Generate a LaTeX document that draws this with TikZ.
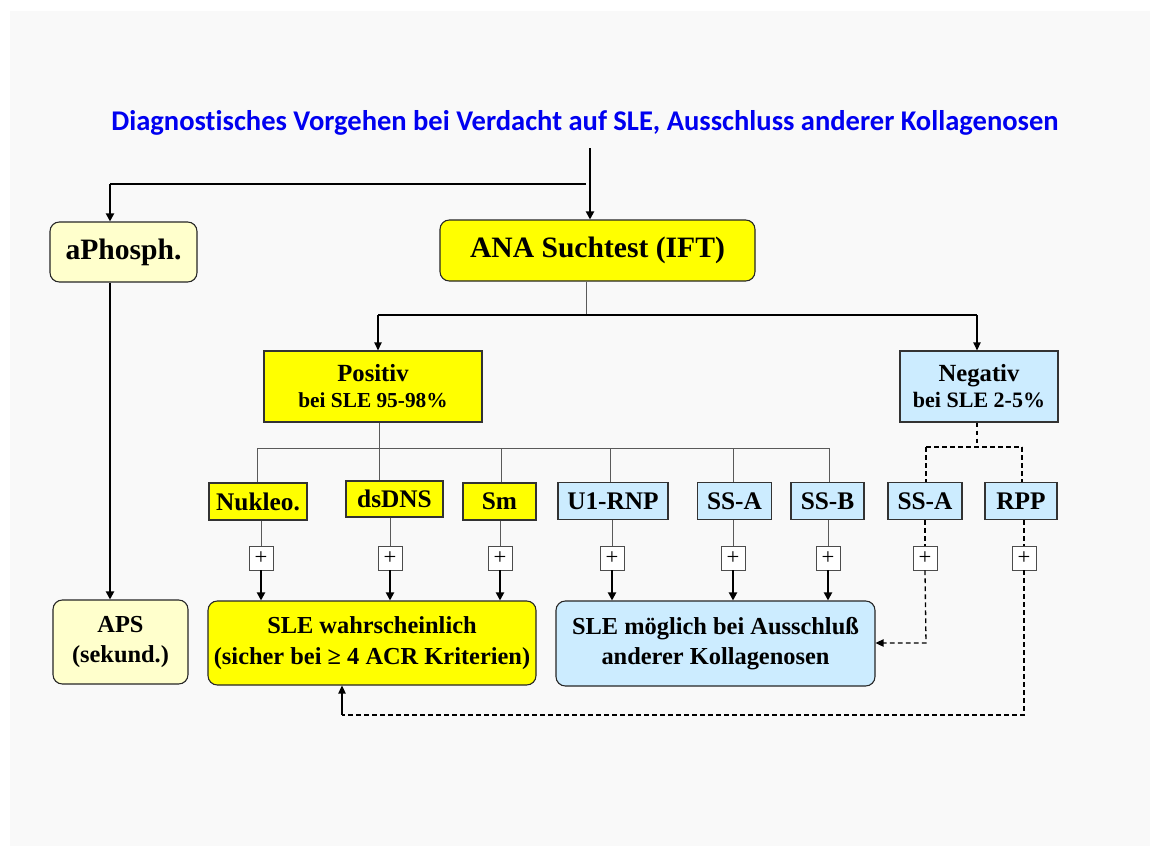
\documentclass[tikz,border=0pt]{standalone}
\usepackage{fontspec}
\setmainfont{Liberation Serif}
\newfontfamily\titlefont[Ligatures=NoCommon]{Carlito}
\usetikzlibrary{arrows.meta,calc}
\definecolor{bg}{HTML}{F9F9F9}
\definecolor{ylw}{HTML}{FFFF00}
\definecolor{lylw}{HTML}{FFFFCC}
\definecolor{lblue}{HTML}{CCECFF}
\definecolor{ttl}{HTML}{0000F0}
\definecolor{lgray}{HTML}{5A5A5A}
\tikzset{
  dims/.style 2 args={minimum width=#1*0.75pt, minimum height=#2*0.75pt, inner sep=0pt},
  boxbase/.style={draw=black!85, line width=0.8pt, font=\bfseries, align=center},
  rbox/.style={boxbase, rounded corners=7pt},
  sbox/.style={boxbase, draw=black!80, line width=0.9pt},
  plusbox/.style={draw=black!70, fill=white, line width=0.7pt, minimum width=18pt, minimum height=18pt, inner sep=0pt, font=\fontsize{17}{17}\selectfont},
  tree/.style={draw=lgray, line width=0.75pt},
  arr/.style={draw=black, line width=1.4pt, -{Triangle[length=6pt,width=6pt]}},
  arrthin/.style={draw=black, line width=1pt, -{Triangle[length=6pt,width=5.5pt]}},
  dsh/.style={draw=black, line width=1pt, dash pattern=on 3.5pt off 2.5pt},
  dsharr/.style={dsh, -{Triangle[length=6pt,width=5.5pt]}},
}
\begin{document}
\begin{tikzpicture}[x=0.75pt,y=-0.75pt]
\useasboundingbox (0,0) rectangle (1150,846);
\fill[white] (0,0) rectangle (1150,846);
\fill[bg] (10,11) rectangle (1150,846);

\node[anchor=base, text=ttl, font=\titlefont\bfseries\fontsize{21.4}{24}\selectfont] (title) at (585,130)
  {Diagnostisches Vorgehen bei Verdacht auf SLE, Ausschluss anderer Kollagenosen};

% main boxes
\node[rbox, dims={147}{60}, fill=lylw, font=\bfseries\fontsize{22.2}{24}\selectfont] (aP) at (123.5,252) {aPhosph.};
\node[rbox, dims={315}{61}, fill=ylw, font=\bfseries\fontsize{22.2}{24}\selectfont] (ana) at (597.5,250.5) {ANA Suchtest (IFT)};

\node[sbox, dims={218}{71}, fill=ylw, font=\bfseries\fontsize{16}{19.5}\selectfont] (pos) at (373,386.5)
  {{\fontsize{18.5}{19.5}\selectfont Positiv}\\bei SLE 95-98\%};
\node[sbox, dims={158}{71}, fill=lblue, font=\bfseries\fontsize{16.5}{19.5}\selectfont] (neg) at (979,386.5)
  {{\fontsize{18.5}{19.5}\selectfont Negativ}\\bei SLE 2-5\%};

% antibody boxes
\tikzset{ab/.style={sbox, font=\bfseries\fontsize{19}{20}\selectfont}}
\node[ab, dims={98}{37}, fill=ylw] (nuk) at (258,501.5) {Nukleo.};
\node[ab, dims={97}{36}, fill=ylw] (ds) at (394.5,499) {dsDNS};
\node[ab, dims={73}{37}, fill=ylw] (sm) at (499.5,501.5) {Sm};
\node[ab, dims={110}{37}, fill=lblue] (u1) at (613,501) {U1-RNP};
\node[ab, dims={74}{37}, fill=lblue] (ssa) at (734.5,501) {SS-A};
\node[ab, dims={73}{37}, fill=lblue] (ssb) at (827.5,501) {SS-B};
\node[ab, dims={74}{37}, fill=lblue] (ssa2) at (925,501) {SS-A};
\node[ab, dims={72}{37}, fill=lblue] (rpp) at (1021,501) {RPP};

% plus boxes
\node[plusbox] (p1) at (261,558) {+};
\node[plusbox] (p2) at (390,558) {+};
\node[plusbox] (p3) at (500,558) {+};
\node[plusbox] (p4) at (612,558) {+};
\node[plusbox] (p5) at (733,558) {+};
\node[plusbox] (p6) at (828,558) {+};
\node[plusbox] (p7) at (925,558) {+};
\node[plusbox] (p8) at (1024,558) {+};

% result boxes
\node[rbox, dims={328}{84}, fill=ylw, font=\bfseries\fontsize{18.3}{23}\selectfont] (sle) at (372,643)
  {SLE wahrscheinlich\\(sicher bei ≥ 4 ACR Kriterien)};
\node[rbox, dims={319}{85}, fill=lblue, font=\bfseries\fontsize{18.3}{23}\selectfont] (mog) at (715.5,643.5)
  {SLE möglich bei Ausschluß\\anderer Kollagenosen};
\node[rbox, dims={135}{84}, fill=lylw, font=\bfseries\fontsize{18.3}{23}\selectfont] (aps) at (120.5,642)
  {APS\\(sekund.)};

% top connectors
\coordinate (t0) at (590,148);
\draw[arr] (t0) -- (t0 |- ana.north);
\coordinate (b0) at (586,184);
\coordinate (b1) at (110,184);
\draw[draw=black, line width=0.8pt] (b0) -- (b1);
\draw[arr] (b1) -- (b1 |- aP.north);
\draw[arr] (b1 |- aP.south) -- (b1 |- aps.north);

% ANA to Positiv / Negativ
\coordinate (c0) at (586,315);
\coordinate (cL) at (378,315);
\coordinate (cR) at (977,315);
\draw[tree] (c0 |- ana.south) -- (c0);
\draw[draw=black, line width=0.8pt] (cL) -- (cR);
\draw[arrthin] (cL) -- (cL |- pos.north);
\draw[arrthin] (cR) -- (cR |- neg.north);

% Positiv bus
\coordinate (q0) at (379,448);
\coordinate (qL) at (257,448);
\coordinate (qR) at (829,448);
\draw[tree] (q0 |- pos.south) -- (q0);
\draw[tree] (qL) -- (qR);
\draw[tree] (qL) -- (qL |- nuk.north);
\draw[tree] (q0) -- (q0 |- ds.north);
\coordinate (q3) at (501,448);
\coordinate (q4) at (610,448);
\coordinate (q5) at (733,448);
\draw[tree] (q3) -- (q3 |- sm.north);
\draw[tree] (q4) -- (q4 |- u1.north);
\draw[tree] (q5) -- (q5 |- ssa.north);
\draw[tree] (qR) -- (qR |- ssb.north);

% boxes to plus
\draw[tree] (p1.north |- nuk.south) -- (p1.north);
\draw[tree] (p2.north |- ds.south) -- (p2.north);
\draw[tree] (p3.north |- sm.south) -- (p3.north);
\draw[tree] (p4.north |- u1.south) -- (p4.north);
\draw[tree] (p5.north |- ssa.south) -- (p5.north);
\draw[tree] (p6.north |- ssb.south) -- (p6.north);

% plus to results
\draw[arr] (p1.south) -- (p1.south |- sle.north);
\draw[arr] (p2.south) -- (p2.south |- sle.north);
\draw[arr] (p3.south) -- (p3.south |- sle.north);
\draw[arr] (p4.south) -- (p4.south |- mog.north);
\draw[arr] (p5.south) -- (p5.south |- mog.north);
\draw[arr] (p6.south) -- (p6.south |- mog.north);

% Negativ dashed
\coordinate (n0) at (977,447);
\coordinate (nL) at (926,447);
\coordinate (nR) at (1022,447);
\draw[dsh] (n0 |- neg.south) -- (n0);
\draw[dsh] (nL) -- (nR);
\draw[dsh] (nL) -- (nL |- ssa2.north);
\draw[dsh] (nR) -- (nR |- rpp.north);
\draw[dsh] (p7.north |- ssa2.south) -- (p7.north);
\draw[dsh] (p8.north |- rpp.south) -- (p8.north);
\coordinate (m1) at (926,643);
\draw[dsharr] (p7.south) -- (m1) -- (mog.east |- m1);
\coordinate (r1) at (1024,715);
\coordinate (r2) at (342,715);
\draw[dsh] (p8.south) -- (r1) -- (r2);
\draw[arrthin] (r2) -- (r2 |- sle.south);
\end{tikzpicture}
\end{document}
